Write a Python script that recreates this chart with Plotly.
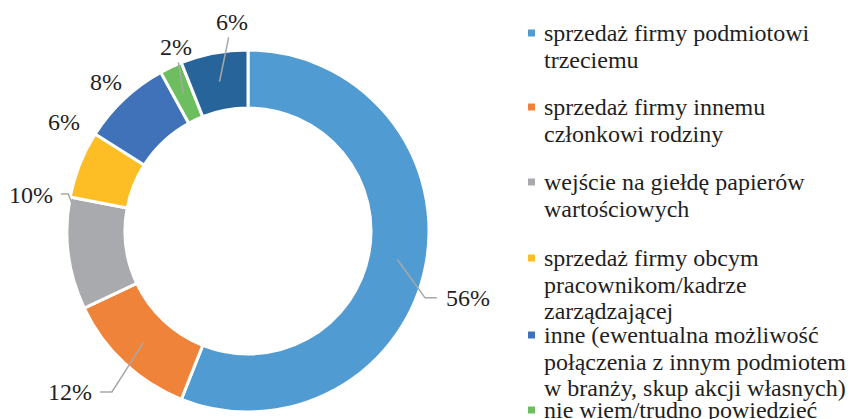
import math
import plotly.graph_objects as go

# ---- data ----
categories = [
    "sprzedaż firmy podmiotowi<br>trzeciemu",
    "sprzedaż firmy innemu<br>członkowi rodziny",
    "wejście na giełdę papierów<br>wartościowych",
    "sprzedaż firmy obcym<br>pracownikom/kadrze<br>zarządzającej",
    "inne (ewentualna możliwość<br>połączenia z innym podmiotem<br>w branży, skup akcji własnych)",
    "nie wiem/trudno powiedzieć",
    "brak odpowiedzi",
]
values = [56, 12, 10, 6, 8, 2, 6]

# ---- style ----
colors = ["#519BD3", "#F0833A", "#A9AAAD", "#FDBE25", "#4072BA", "#6DBE5E", "#27649A"]
W, H = 851, 419
CX, CY = 248, 231
R_OUT, R_IN = 181, 123
R_MID = (R_OUT + R_IN) / 2
FONT = "Liberation Serif, Times New Roman, serif"
TXT = "#1F1F1F"
LINE = "#A8A8A8"

# label placement: angle offset from slice mid (deg), distance from centre (px), leader type
label_style = [
    dict(dang=6.1, r=230, line="elbow_right"),
    dict(dang=4.7, r=240, line="elbow_left"),
    dict(dang=16.6, r=220, line="edge_left"),
    dict(dang=9.0, r=214, line=None),
    dict(dang=-0.4, r=206, line=None),
    dict(dang=3.8, r=198, line="straight"),
    dict(dang=6.4, r=210, line="straight"),
]
legend_first_y = [33, 107, 182, 258, 335, 410, 487]
LEG_LINE = 26.5
LEG_SQ_X = 528
LEG_TXT_X = 542


def px(x):
    return x / W


def py(y):
    return 1 - y / H


def polar(deg, r):
    a = math.radians(deg)
    return CX + r * math.sin(a), CY - r * math.cos(a)


fig = go.Figure(go.Pie(
    values=values,
    labels=categories,
    sort=False,
    direction="clockwise",
    rotation=0,
    hole=R_IN / R_OUT,
    marker=dict(colors=colors, line=dict(color="white", width=3)),
    textinfo="none",
    hoverinfo="skip",
    showlegend=False,
    domain=dict(x=[px(CX - R_OUT), px(CX + R_OUT)], y=[py(CY + R_OUT), py(CY - R_OUT)]),
))

annotations = []
shapes = []
total = sum(values)
cum = 0
for v, st in zip(values, label_style):
    start = cum / total * 360
    end = (cum + v) / total * 360
    mid = (start + end) / 2
    cum += v
    tx, ty = polar(mid + st["dang"], st["r"])
    text = f"{v}%"
    annotations.append(dict(x=px(tx), y=py(ty), xref="paper", yref="paper", text=text,
                            showarrow=False, xanchor="center", yanchor="middle",
                            font=dict(family=FONT, size=24, color=TXT)))
    half = 22
    path = None
    if st["line"] == "elbow_right":
        ax, ay = polar(mid, R_MID)
        ex = tx - half - 9
        bx = ex - 12
        path = [(ax, ay), (bx, ty), (ex, ty)]
    elif st["line"] == "elbow_left":
        ax, ay = polar(mid, R_MID)
        ex = tx + half + 8
        bx = ex + 12
        path = [(ax, ay), (bx, ty), (ex, ty)]
    elif st["line"] == "edge_left":
        ax, ay = polar(end - 1.5, R_OUT - 2)
        ex = tx + half + 8
        bx = ax - 3
        path = [(ax, ay), (bx, ty - 1), (ex, ty - 1)]
    elif st["line"] == "straight":
        ax, ay = polar(mid, R_MID)
        d = math.hypot(tx - ax, ty - ay)
        k = (d - 16) / d
        path = [(ax, ay), (ax + (tx - ax) * k, ay + (ty - ay) * k)]
    if path:
        p = "M " + " L ".join(f"{px(x):.5f},{py(y):.5f}" for x, y in path)
        shapes.append(dict(type="path", path=p, xref="paper", yref="paper",
                           line=dict(color=LINE, width=1.5)))

# manual legend
for cat, col, y0 in zip(categories, colors, legend_first_y):
    shapes.append(dict(type="rect", xref="paper", yref="paper",
                       x0=px(LEG_SQ_X), x1=px(LEG_SQ_X + 7),
                       y0=py(y0 - 3.5), y1=py(y0 + 3.5),
                       fillcolor=col, line=dict(width=0)))
    for j, ln in enumerate(cat.split("<br>")):
        annotations.append(dict(x=px(LEG_TXT_X), y=py(y0 + j * LEG_LINE), xref="paper", yref="paper",
                                text=ln, showarrow=False, xanchor="left", yanchor="middle",
                                font=dict(family=FONT, size=24, color=TXT)))

fig.update_layout(
    width=W, height=H,
    margin=dict(l=0, r=0, t=0, b=0),
    paper_bgcolor="white", plot_bgcolor="white",
    annotations=annotations, shapes=shapes,
)

fig.write_html("out.html", config={"displayModeBar": False},
               post_script="document.body.style.margin='0';document.body.style.overflow='hidden';")
